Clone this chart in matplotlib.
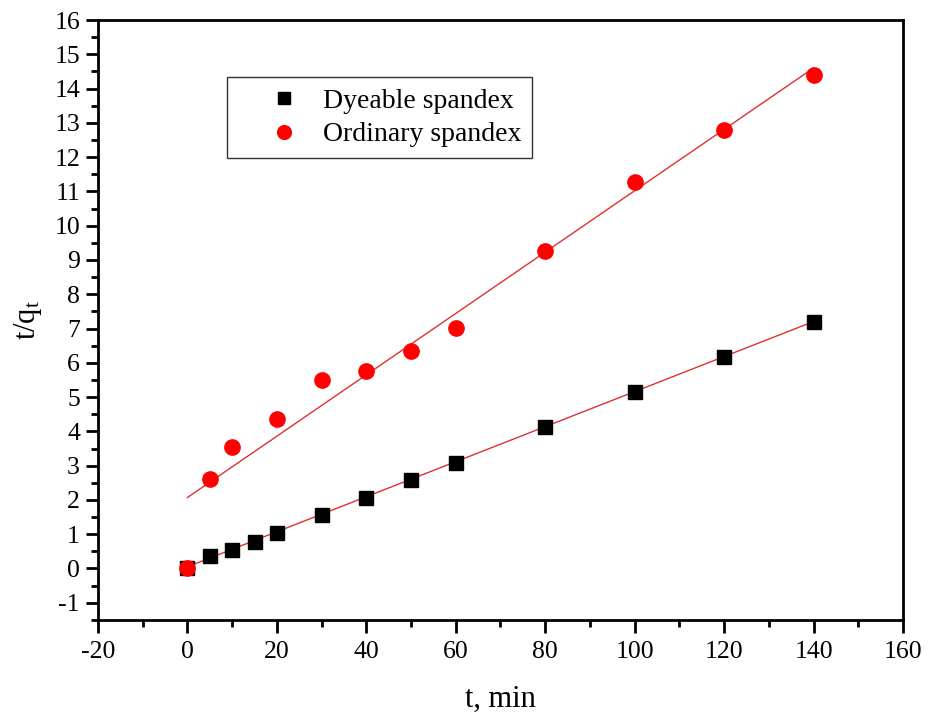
import numpy as np
import matplotlib
matplotlib.use("Agg")
import matplotlib.pyplot as plt
from matplotlib.ticker import MultipleLocator

plt.rcParams["font.family"] = ["Liberation Serif", "DejaVu Serif"]
plt.rcParams["mathtext.fontset"] = "custom"
plt.rcParams["mathtext.rm"] = "Liberation Serif"
plt.rcParams["mathtext.it"] = "Liberation Serif"
plt.rcParams["axes.unicode_minus"] = False

# 염색성 스판덱스
t_dye = [0, 5, 10, 15, 20, 30, 40, 50, 60, 80, 100, 120, 140]
q_dye = [0, 0.36, 0.55, 0.78, 1.03, 1.55, 2.05, 2.58, 3.08, 4.12, 5.15, 6.18, 7.2]
# 일반 스판덱스
t_ord = [0, 5, 10, 20, 30, 40, 50, 60, 80, 100, 120, 140]
q_ord = [0, 2.6, 3.55, 4.37, 5.5, 5.75, 6.33, 7.02, 9.25, 11.28, 12.8, 14.4]
# 선형 적합 (절편, 기울기) — 그림에서 읽음
fit_dye = (0.05, 0.0511)
fit_ord = (2.07, 0.0895)
fit_x = [0, 140]

fig = plt.figure(figsize=(9.29, 7.15), dpi=100)
ax = fig.add_axes([0.1055, 0.133, 0.8665, 0.839])

for b, m in (fit_dye, fit_ord):
    xx = np.array(fit_x)
    ax.plot(xx, b + m * xx, color="#e03030", lw=1.0, zorder=2)

ax.plot(t_dye, q_dye, "s", color="black", ms=9.5, ls="none", label="Dyeable spandex", zorder=3)
ax.plot(t_ord, q_ord, "o", color="#ff0000", ms=11, ls="none", label="Ordinary spandex", zorder=4)

ax.set_xlim(-20, 160)
ax.set_ylim(-1.5, 16)
ax.xaxis.set_major_locator(MultipleLocator(20))
ax.xaxis.set_minor_locator(MultipleLocator(10))
ax.yaxis.set_major_locator(MultipleLocator(1))
ax.yaxis.set_minor_locator(MultipleLocator(0.5))
ax.tick_params(which="major", direction="out", length=9, width=2, labelsize=18.5)
ax.tick_params(which="minor", direction="out", length=5, width=2)
ax.tick_params(axis="x", pad=6)
ax.tick_params(axis="y", pad=4)
for s in ax.spines.values():
    s.set_linewidth(2)

ax.set_xlabel("t, min", fontsize=22, labelpad=16)
ax.set_ylabel("t/q$_\\mathrm{t}$", fontsize=22, labelpad=7)

# 마커를 글자 쪽으로 붙이기 위해 handletextpad 음수
leg = ax.legend(loc="upper left", bbox_to_anchor=(0.16, 0.905), fontsize=20,
                frameon=True, fancybox=False, edgecolor="black", borderpad=0.4,
                handlelength=3.3, handletextpad=-0.25, labelspacing=0.3,
                borderaxespad=0, markerscale=0.9)
leg.get_frame().set_linewidth(1.0)

fig.savefig("out.png", dpi=100)
